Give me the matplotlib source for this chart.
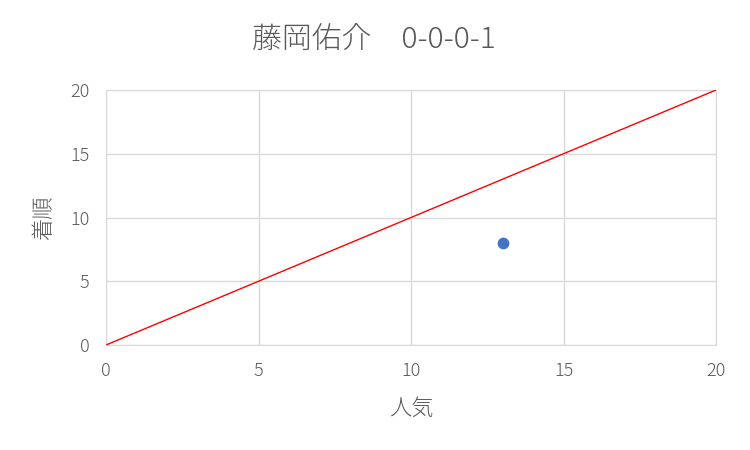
import matplotlib
matplotlib.use("Agg")
import matplotlib.pyplot as plt

plt.rcParams['font.family'] = ['Noto Sans CJK JP', 'DejaVu Sans']

title = "藤岡佑介　0-0-0-1"
x_label = "人気"
y_label = "着順"
pop = [13]
finish = [8]
ref_x = [0, 20]
ref_y = [0, 20]
ticks = [0, 5, 10, 15, 20]

fig = plt.figure(figsize=(7.5, 4.5), dpi=100)
ax = fig.add_axes([106/750, 1-345/450, 610/750, 255/450])
ax.plot(ref_x, ref_y, color='#ff0000', linewidth=1.0, zorder=3)
ax.scatter(pop, finish, s=55, color='#4472c4', zorder=4)
ax.set_xlim(0, 20)
ax.set_ylim(0, 20)
ax.set_xticks(ticks)
ax.set_yticks(ticks)
ax.grid(True, color='#d9d9d9', linewidth=1.0)
for s in ax.spines.values():
    s.set_color('#d9d9d9')
ax.tick_params(length=0, colors='#595959', labelsize=13, pad=12)
for lab in ax.get_xticklabels() + ax.get_yticklabels():
    lab.set_fontweight('light')
ax.set_xlabel(x_label, color='#595959', fontsize=16, labelpad=13, fontweight='light')
ax.set_ylabel(y_label, color='#595959', fontsize=16, labelpad=11, fontweight='light')
fig.text(374/750, 1-40/450, title, ha='center', va='center', fontsize=21.5, color='#595959', fontweight='light')
fig.savefig('out.png', dpi=100)
